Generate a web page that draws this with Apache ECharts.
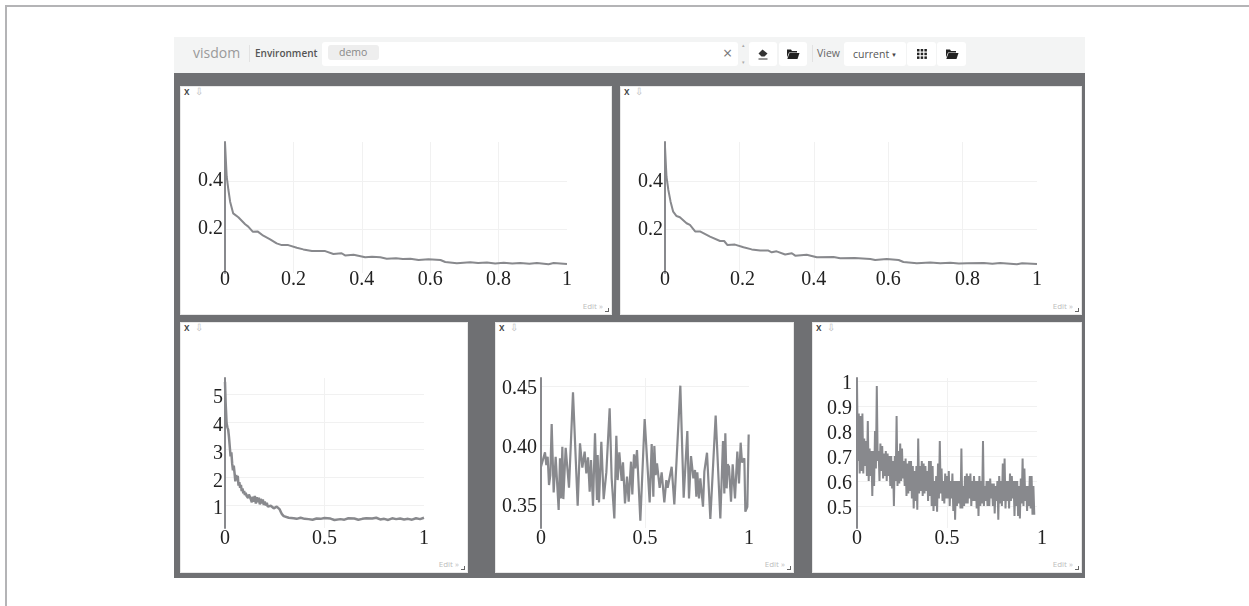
<!DOCTYPE html>
<html><head><meta charset="utf-8">
<script src="https://cdn.jsdelivr.net/npm/echarts@6/dist/echarts.min.js"></script>
<style>
html,body{margin:0;padding:0;background:#fff;width:1249px;height:606px;overflow:hidden;font-family:"Open Sans",sans-serif}
.abs{position:absolute;box-sizing:border-box}
#frameT{left:5px;top:5px;right:0;height:2px;background:#b4b4b6}
#frameL{left:5px;top:5px;bottom:0;width:2px;background:#b4b4b6}
#bar{left:174px;top:37px;width:911px;height:36px;background:#f3f4f4}
#dark{left:174px;top:73px;width:911px;height:505px;background:#6f7073}
.panel{background:#fff;border:1px solid #e8e8e8}
.x{position:absolute;left:3px;top:-3px;font-size:10px;color:#444;font-weight:600}
.down{position:absolute;left:14px;top:-3px;font-size:10px;color:#bbb}
.edit{position:absolute;right:8px;bottom:3px;font-size:8px;color:#bdbdbd}
.corner{position:absolute;right:2px;bottom:2px;width:3px;height:3px;border-right:1.5px solid #666;border-bottom:1.5px solid #666}
.t{position:absolute;white-space:nowrap;line-height:1}
.btn{position:absolute;top:42px;height:24px;background:#fff;border-radius:3px;box-sizing:border-box}
.btn svg{position:absolute;left:50%;top:50%;transform:translate(-50%,-50%)}
#chart{left:0;top:0;width:1249px;height:606px}
</style></head><body>
<div class="abs" id="frameT"></div><div class="abs" id="frameL"></div>
<div class="abs" id="bar"></div><div class="abs" id="dark"></div>
<div class="t" style="left:193px;top:46px;font-size:14px;color:#9a9a9a">visdom</div>
<div class="abs" style="left:249px;top:45px;width:1px;height:17px;background:#e2e2e2"></div>
<div class="t" style="left:255px;top:48px;font-size:10px;color:#555;font-weight:600">Environment</div>
<div class="btn" style="left:322px;width:416px"></div>
<div class="btn" style="left:328px;top:45px;width:51px;height:15px;background:#eeeeee"></div>
<div class="t" style="left:339px;top:47px;font-size:10.5px;color:#888">demo</div>
<div class="t" style="left:723px;top:45px;font-size:16px;color:#777">×</div>
<div class="t" style="left:742px;top:43px;font-size:5px;color:#aaa">▴</div>
<div class="t" style="left:742px;top:60px;font-size:5px;color:#aaa">▾</div>
<div class="btn" style="left:749px;width:28px"><svg width="13" height="13" viewBox="0 0 13 13"><path d="M2 6 6 2 11 6 8 9H5Z" fill="#333"/><path d="M2 11.5H11" stroke="#333" stroke-width="1"/></svg></div>
<div class="btn" style="left:779px;width:28px"><svg width="14" height="11" viewBox="0 0 14 11"><path d="M1 1H5L6 2.5H11V4H3L1 9Z" fill="#222"/><path d="M3.5 4.5H13.5L11.5 10.5H1.3Z" fill="#222"/></svg></div>
<div class="abs" style="left:812px;top:45px;width:1px;height:17px;background:#e2e2e2"></div>
<div class="t" style="left:817px;top:48px;font-size:10.5px;color:#666">View</div>
<div class="btn" style="left:844px;width:62px"></div>
<div class="t" style="left:853px;top:49px;font-size:10.5px;color:#555">current</div>
<div class="t" style="left:891px;top:52px;font-size:6px;color:#444">▼</div>
<div class="btn" style="left:907px;width:29px"><svg width="10" height="10" viewBox="0 0 10 10" fill="#222"><rect x="0" y="0" width="2.5" height="2.5"/><rect x="3.7" y="0" width="2.5" height="2.5"/><rect x="7.4" y="0" width="2.5" height="2.5"/><rect x="0" y="3.7" width="2.5" height="2.5"/><rect x="3.7" y="3.7" width="2.5" height="2.5"/><rect x="7.4" y="3.7" width="2.5" height="2.5"/><rect x="0" y="7.4" width="2.5" height="2.5"/><rect x="3.7" y="7.4" width="2.5" height="2.5"/><rect x="7.4" y="7.4" width="2.5" height="2.5"/></svg></div>
<div class="btn" style="left:937px;width:29px"><svg width="14" height="11" viewBox="0 0 14 11"><path d="M1 1H5L6 2.5H11V4H3L1 9Z" fill="#222"/><path d="M3.5 4.5H13.5L11.5 10.5H1.3Z" fill="#222"/></svg></div>
<div id="panels"></div>
<div class="abs" id="chart"></div>
<script>
// Panel 1: top-left training curve
const topLeftX = [0,.005,.01,.015,.024,.039,.059,.068,.081,.095,.112,.132,.151,.166,.185,.21,.229,.254,.293,.317,.341,.351,.376,.41,.43,.454,.473,.5,.52,.542,.566,.595,.63,.644,.678,.717,.74,.766,.79,.815,.84,.863,.89,.912,.946,.961,1];
const topLeftY = [.56,.418,.3625,.314,.265,.249,.22,.21,.189,.19,.172,.157,.14,.133,.133,.122,.115,.108,.108,.096,.099,.09,.093,.082,.084,.082,.076,.078,.075,.076,.071,.074,.071,.0625,.057,.061,.058,.06,.056,.059,.056,.058,.055,.058,.053,.058,.054];
// Panel 2: top-right training curve
const topRightX = [0,.004,.009,.015,.022,.031,.04,.058,.067,.081,.094,.121,.148,.159,.168,.188,.211,.233,.256,.278,.287,.3,.323,.341,.35,.381,.408,.453,.471,.51,.552,.565,.596,.628,.641,.677,.713,.74,.767,.79,.812,.857,.88,.901,.946,.96,1];
const topRightY = [.543,.418,.3625,.314,.272,.254,.249,.224,.217,.19,.19,.168,.15,.15,.133,.135,.124,.115,.11,.11,.103,.107,.094,.099,.089,.093,.082,.083,.078,.079,.075,.071,.075,.071,.0625,.057,.06,.057,.059,.056,.057,.058,.055,.058,.053,.057,.054];
// Panel 3: bottom-left loss curve
const lossX = [0,.003,.008,.012,.016,.02,.024,.028,.032,.036,.04,.044,.048,.052,.056,.06,.064,.068,.072,.076,.08,.084,.088,.092,.096,.1,.104,.108,.112,.116,.12,.125,.13,.135,.14,.145,.15,.155,.16,.165,.17,.175,.18,.185,.19,.195,.2,.205,.21,.215,.22,.225,.23,.235,.24,.245,.25,.255,.26,.265,.27,.275,.28,.285,.29,.295,.3,.305,.32,.33,.345,.36,.38,.4,.41,.42,.44,.46,.48,.5,.51,.53,.55,.56,.58,.6,.62,.63,.65,.67,.69,.71,.72,.74,.76,.78,.8,.82,.84,.86,.87,.88,.9,.92,.94,.96,.98,1];
const lossY = [5.44,4.72,3.95,3.8,3.72,3.45,3.1,2.75,2.9,2.5,2.25,2.42,2.15,1.85,2.08,1.95,2.05,1.7,1.82,1.62,1.72,1.5,1.6,1.42,1.5,1.36,1.44,1.33,1.4,1.25,1.38,1.3,1.34,1.1,1.3,1.12,1.33,1.05,1.28,1.1,1.26,1.02,1.22,1.06,1.2,1,1.12,.98,1.08,.94,1,.92,.97,.9,.95,.88,.93,.9,.94,.9,.96,.84,.76,.68,.62,.6,.58,.56,.54,.53,.52,.5,.54,.5,.56,.49,.47,.51,.5,.53,.49,.51,.46,.53,.49,.47,.52,.48,.51,.47,.5,.52,.47,.51,.54,.48,.5,.46,.52,.49,.45,.51,.48,.5,.47,.52,.49,.54];
// Panel 4: bottom-middle noisy metric
const metricX = [0,.0064,.0192,.0256,.0321,.0385,.0449,.0513,.0609,.0705,.0849,.0913,.0962,.1026,.1074,.1186,.1346,.1538,.1603,.1763,.1875,.1987,.2099,.2179,.226,.234,.2404,.25,.2596,.2692,.2724,.2788,.2901,.3013,.3141,.3301,.3397,.3526,.3622,.3686,.3766,.3878,.3942,.4038,.4135,.4215,.4327,.4391,.4471,.4535,.4615,.4776,.4984,.5224,.5321,.5401,.5449,.5513,.5577,.5705,.5801,.5929,.6026,.609,.6282,.641,.649,.6699,.6859,.7035,.7115,.7212,.7324,.7404,.7468,.7516,.7596,.766,.7788,.7853,.7981,.8141,.8397,.8622,.875,.8814,.8862,.8926,.8974,.9038,.9135,.9215,.9327,.9439,.9519,.9599,.9663,.9776,.9824,.992,.9984];
const metricY = [.3816,.3802,.3938,.383,.3901,.3661,.3746,.4178,.3599,.3901,.3449,.3887,.3548,.3986,.3542,.3977,.3638,.4446,.4446,.3486,.4014,.3808,.3944,.376,.3895,.3604,.3873,.3486,.4099,.3534,.3915,.3514,.4028,.3542,.3768,.4311,.3718,.3378,.4079,.3703,.3938,.3695,.3853,.3506,.3732,.352,.3859,.3582,.3921,.3802,.3958,.3359,.422,.3514,.4008,.3562,.3992,.3746,.3845,.3638,.3768,.3514,.3703,.3638,.3816,.3497,.3506,.4503,.3554,.4119,.3548,.3907,.3718,.3788,.3562,.3768,.3548,.3718,.3477,.3774,.3935,.3373,.4249,.3378,.4034,.359,.4099,.3633,.3836,.3816,.352,.3836,.3548,.3944,.3675,.402,.3853,.3887,.3435,.3477,.409];
// Panel 5: bottom-right noisy metric, upper and lower reading per 0.01 of x
const accHigh = [1,.87,.86,.87,.77,.76,.84,.73,.72,.72,.8,.98,.72,.75,.74,.71,.72,.71,.7,.7,.68,.7,.86,.72,.75,.73,.68,.69,.67,.68,.68,.66,.64,.66,.77,.66,.68,.67,.66,.64,.68,.68,.66,.6,.62,.67,.76,.65,.6,.63,.62,.64,.6,.63,.6,.6,.6,.6,.73,.58,.62,.63,.62,.63,.6,.62,.6,.6,.62,.6,.76,.58,.6,.6,.61,.59,.59,.58,.6,.62,.6,.67,.69,.6,.6,.63,.62,.6,.6,.6,.58,.61,.69,.65,.58,.58,.62,.62,.58];
const accLow = [.68,.63,.64,.63,.66,.62,.6,.62,.54,.58,.65,.68,.6,.64,.61,.62,.6,.62,.58,.57,.5,.6,.58,.59,.6,.61,.58,.54,.55,.56,.53,.49,.52,.485,.55,.56,.54,.55,.56,.52,.54,.5,.48,.5,.477,.53,.55,.52,.51,.53,.53,.5,.53,.48,.445,.5,.51,.49,.49,.5,.51,.51,.53,.5,.52,.52,.49,.46,.5,.51,.5,.52,.5,.5,.53,.5,.47,.52,.445,.51,.5,.52,.49,.52,.49,.52,.53,.46,.5,.46,.45,.51,.5,.52,.48,.5,.49,.465,.465];
// Tick labels
const xTicksTop = [0,.2,.4,.6,.8,1];
const xTicksBottom = [0,.5,1];
const yTicksTop = [.2,.4];
const yTicksLoss = [1,2,3,4,5];
const yTicksMetric = [.35,.4,.45];
const yTicksAcc = [.5,.6,.7,.8,.9,1];

const panelBoxes = [[180,86,432,229],[620,86,462,229],[180,322,288,251],[495,322,299,251],[812,322,270,251]];
const host = document.getElementById('panels');
panelBoxes.forEach(([l,t,w,h])=>{
  const d=document.createElement('div');d.className='abs panel';
  d.style.cssText=`left:${l}px;top:${t}px;width:${w}px;height:${h}px`;
  d.innerHTML='<span class="x">x</span><span class="down">⇩</span><span class="edit">Edit »</span><span class="corner"></span>';
  host.appendChild(d);
});

const zip=(a,b)=>a.map((v,i)=>[v,b[i]]);
const accXY=[];accHigh.forEach((h,i)=>{accXY.push([i/100,h]);accXY.push([i/100+.005,accLow[i]]);});

const plots=[
 {box:[225,142,342,131],xt:xTicksTop,yt:yTicksTop,ymin:.0167,ymax:.5625,dec:1,data:zip(topLeftX,topLeftY),w:2,xm:-3,ym:2,yp:0,shift:{}},
 {box:[665,142,372,131],xt:xTicksTop,yt:yTicksTop,ymin:.0167,ymax:.5625,dec:1,data:zip(topRightX,topRightY),w:2,xm:-3,ym:2,yp:1,shift:{0.2:'p6',0.8:'p10'}},
 {box:[225,378,199,150],xt:xTicksBottom,yt:yTicksLoss,ymin:.17,ymax:5.58,dec:0,data:zip(lossX,lossY),w:2.5,xm:0.5,ym:2,yp:4,shift:{}},
 {box:[541,378,208,150],xt:xTicksBottom,yt:yTicksMetric,ymin:.3297,ymax:.4568,dec:2,data:zip(metricX,metricY),w:2.2,xm:0.5,ym:4,yp:3,shift:{}},
 {box:[857,378,180,150],xt:xTicksBottom,yt:yTicksAcc,ymin:.412,ymax:1.012,dec:1,data:accXY,w:2,xm:0.5,ym:5,yp:3,shift:{1:'p10'}}
];
const font='"Liberation Serif",serif', lineColor='#88898d', grid='#f1f1f1';
const lab={fontFamily:font,fontSize:20,color:'#222'};
const fmtY=d=>v=>'{d|'+((v===1&&d===1)?'1':v.toFixed(d))+'}';
const option={
 animation:false,
 grid:plots.map(p=>({left:p.box[0],top:p.box[1],width:p.box[2],height:p.box[3],containLabel:false})),
 xAxis:plots.map((p,i)=>({type:'value',gridIndex:i,min:0,max:1,
   axisLine:{show:false},
   axisTick:{show:false,customValues:p.xt},
   axisLabel:{customValues:p.xt,...lab,margin:p.xm,showMinLabel:true,showMaxLabel:true,
     rich:{p6:{...lab,padding:[0,0,0,6]},p10:{...lab,padding:[0,0,0,10]}},
     formatter:v=>p.shift[v]?`{${p.shift[v]}|${v}}`:String(v)},
   splitLine:{show:true,showMinLine:false,showMaxLine:false,lineStyle:{color:grid,width:1}}})),
 yAxis:plots.map((p,i)=>({type:'value',gridIndex:i,min:p.ymin,max:p.ymax,
   axisLine:{show:true,onZero:false,lineStyle:{color:lineColor,width:2}},
   axisTick:{show:false,customValues:p.yt},
   axisLabel:{customValues:p.yt,...lab,margin:p.ym,
     rich:{d:{...lab,padding:[p.yp*2,0,0,0]}},formatter:fmtY(p.dec)},
   splitLine:{show:true,lineStyle:{color:grid,width:1}}})),
 series:plots.map((p,i)=>({type:'line',xAxisIndex:i,yAxisIndex:i,data:p.data,showSymbol:false,smooth:false,
   lineStyle:{color:lineColor,width:p.w},itemStyle:{color:lineColor},silent:true}))
};
echarts.init(document.getElementById('chart')).setOption(option);
</script>
</body></html>
